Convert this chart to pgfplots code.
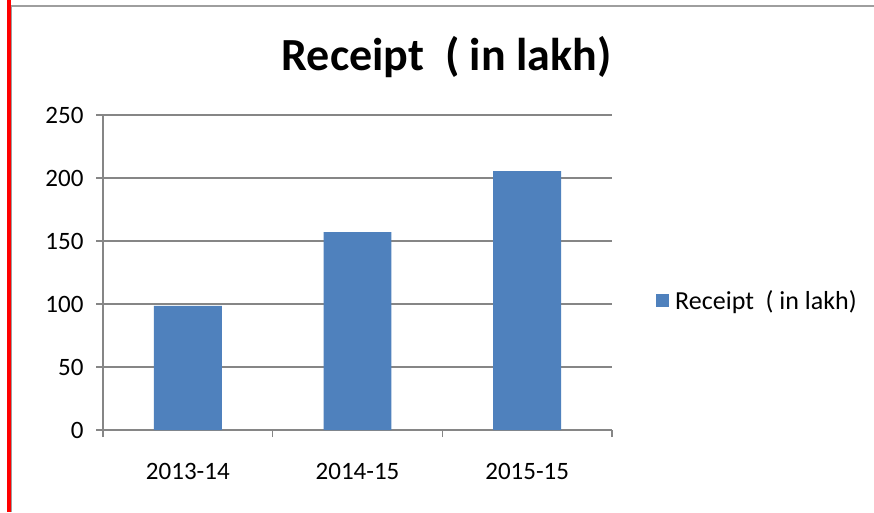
\documentclass[border=0pt]{standalone}
\usepackage{pgfplots}
\pgfplotsset{compat=1.18}
\usepackage{fontspec}
\setmainfont{Carlito}
\definecolor{barblue}{HTML}{4F81BD}
\definecolor{gridgray}{HTML}{868686}
\begin{document}
\begin{tikzpicture}[x=1pt,y=1pt]
\useasboundingbox (0,0) rectangle (874,512);
\fill[white] (0,0) rectangle (874,512);
\draw[gridgray!80, line width=1.5pt] (11,0) -- (11,506) -- (874,506);
\fill[red] (7,0) rectangle (10.5,512);
\node[anchor=base, font=\fontsize{46}{52}\selectfont\bfseries] at (446.5,441) {Receipt\ \ ( in lakh)};
\begin{axis}[
  at={(103pt,82pt)}, anchor=south west,
  scale only axis, width=509pt, height=315pt,
  xmin=-0.5, xmax=2.5, ymin=0, ymax=250,
  ytick={0,50,100,150,200,250},
  xtick={-0.5,0.5,1.5,2.5},
  xticklabels={},
  extra x ticks={0,1,2},
  extra x tick labels={2013-14,2014-15,2015-15},
  extra x tick style={major tick length=0pt},
  xticklabel style={yshift=-30pt},
  tick align=outside,
  major tick length=7pt,
  ymajorgrids,
  grid style={gridgray, line width=1.2pt},
  axis x line*=bottom, axis y line*=left,
  axis line style={gridgray, line width=1.2pt, -},
  tick style={gridgray, line width=1.2pt},
  tick label style={font=\fontsize{25}{29}\selectfont, text=black},
  /pgf/number format/assume math mode=true,
  yticklabel style={xshift=-9pt},
  ybar, bar width=0.4,
  legend style={at={(rel axis cs:1.0865,0.411)}, anchor=west, draw=none, fill=none,
    font=\fontsize{26}{30}\selectfont, inner sep=0pt, legend cell align=left,
    nodes={inner xsep=6pt}},
  legend image code/.code={\fill[barblue] (0pt,-6.5pt) rectangle (13pt,6.5pt);},
]
\addplot[fill=barblue, draw=none] coordinates {(0,98.5) (1,157) (2,205.5)};
\addlegendentry{Receipt\ \ ( in lakh)}
\end{axis}
\end{tikzpicture}
\end{document}
